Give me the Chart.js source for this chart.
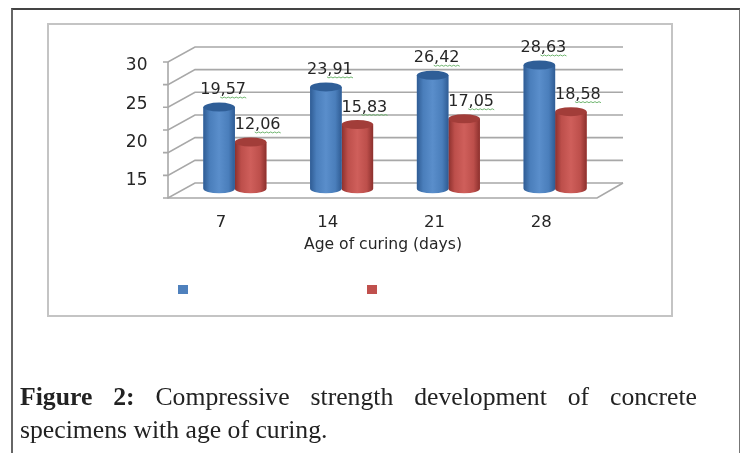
<!DOCTYPE html>
<html>
<head>
<meta charset="utf-8">
<script src="https://cdn.jsdelivr.net/npm/chart.js@4/dist/chart.umd.min.js"></script>
<style>
  html, body { margin: 0; padding: 0; background: #fff; }
  #page { position: relative; width: 740px; height: 453px; overflow: hidden; }
  #frame { position: absolute; left: 11px; top: 8px; width: 726px; height: 470px; border-top: 2px solid #444; border-left: 2px solid #666; border-right: 2px solid #777; }
  #box { position: absolute; left: 47px; top: 23px; width: 622px; height: 290px; border: 2px solid #c4c4c4; }
  #chart { position: absolute; left: 0; top: 0; filter: blur(0.4px); }
  #caption { position: absolute; left: 20px; top: 380px; width: 677px; font: 25.7px/33px "Liberation Serif", serif; color: #222; text-align: justify; }
</style>
</head>
<body>
<div id="page">
  <div id="frame"></div>
  <div id="box"></div>
  <canvas id="chart" width="740" height="453"></canvas>
  <div id="caption"><b>Figure 2:</b> Compressive strength development of concrete specimens with age of curing.</div>
</div>
<script>
const categories = ["7", "14", "21", "28"];
const blueValues = [19.57, 23.91, 26.42, 28.63];
const redValues = [12.06, 15.83, 17.05, 18.58];
const tickLabels = [15, 20, 25, 30];
const gridLines = [0, 1, 2, 3, 4, 5, 6];
const xTitle = "Age of curing (days)";

const area = { left: 181.5, right: 608.5, top: 47, bottom: 198 };
const depth = { x: 27, y: -15 };
const gridColor = "#a8a8a8";
const textColor = "#262626";

function comma(v) {
  return v.toFixed(2).replace(".", ",");
}

const wallPlugin = {
  id: "wall",
  beforeDatasetsDraw(chart) {
    const c = chart.ctx;
    const frontX = 168;
    const backRight = 623;
    const grid = chart.scales.yGrid;
    c.save();
    c.strokeStyle = gridColor;
    c.lineWidth = 1.6;
    gridLines.forEach((v) => {
      const y = grid.getPixelForValue(v);
      c.beginPath();
      c.moveTo(frontX - 5, y);
      c.lineTo(frontX, y);
      c.lineTo(frontX + depth.x, y + depth.y);
      c.lineTo(backRight, y + depth.y);
      c.stroke();
    });
    c.beginPath();
    c.moveTo(frontX, grid.getPixelForValue(6));
    c.lineTo(frontX, grid.getPixelForValue(0));
    c.lineTo(backRight - depth.x + 1, grid.getPixelForValue(0));
    c.lineTo(backRight, grid.getPixelForValue(0) + depth.y);
    c.stroke();
    c.restore();
  },
};

const cylinderColors = [
  { edge: "#2f5c94", mid: "#4a7ebb", light: "#5a8ecb", top: "#2f5e97" },
  { edge: "#8c302d", mid: "#bd4f4b", light: "#cf5f5b", top: "#a23d39" },
];

const cylinderPlugin = {
  id: "cylinders",
  afterDatasetDraw(chart, args) {
    const c = chart.ctx;
    const col = cylinderColors[args.index];
    args.meta.data.forEach((bar) => {
      const left = bar.x - bar.width / 2;
      const right = bar.x + bar.width / 2;
      const rx = bar.width / 2;
      const ry = 4.5;
      const g = c.createLinearGradient(left, 0, right, 0);
      g.addColorStop(0, col.edge);
      g.addColorStop(0.2, col.mid);
      g.addColorStop(0.5, col.light);
      g.addColorStop(0.8, col.mid);
      g.addColorStop(1, col.edge);
      c.save();
      c.fillStyle = g;
      c.beginPath();
      c.moveTo(left, bar.y);
      c.lineTo(left, bar.base);
      c.ellipse(bar.x, bar.base, rx, ry, 0, Math.PI, 0, true);
      c.lineTo(right, bar.y);
      c.closePath();
      c.fill();
      c.fillStyle = col.top;
      c.beginPath();
      c.ellipse(bar.x, bar.y, rx, ry, 0, 0, Math.PI * 2);
      c.fill();
      c.restore();
    });
  },
};

const labelOffsets = [4, 7];

const labelPlugin = {
  id: "valueLabels",
  afterDraw(chart) {
    const c = chart.ctx;
    c.save();
    c.font = '16px "DejaVu Sans"';
    c.textAlign = "center";
    c.textBaseline = "middle";
    chart.data.datasets.forEach((ds, i) => {
      chart.getDatasetMeta(i).data.forEach((bar, j) => {
        const text = comma(ds.data[j]);
        const x = bar.x + labelOffsets[i];
        const y = bar.y - 17;
        c.fillStyle = textColor;
        c.fillText(text, x, y);
        // green spell-check squiggle under the decimals
        const w = c.measureText(text).width;
        c.strokeStyle = "#6fb56f";
        c.lineWidth = 1;
        c.beginPath();
        for (let sx = x - w / 2 + 20, k = 0; sx < x + w / 2 + 2; sx += 2, k++) {
          if (k === 0) c.moveTo(sx, y + 7);
          else c.lineTo(sx, y + 7 + (k % 2));
        }
        c.stroke();
      });
    });
    c.font = '15.6px "DejaVu Sans"';
    c.fillStyle = textColor;
    c.fillText(xTitle, 383, 245);
    // legend keys only, the series names are blank in the figure
    [[178, 285], [367, 285]].forEach((p, i) => {
      c.fillStyle = chart.data.datasets[i].backgroundColor;
      c.fillRect(p[0], p[1], 10, 9);
    });
    c.restore();
  },
};

new Chart(document.getElementById("chart"), {
  type: "bar",
  data: {
    labels: categories,
    datasets: [
      { label: "", data: blueValues, backgroundColor: "#4f81bd", base: 2 },
      { label: "", data: redValues, backgroundColor: "#c0504d", base: 2 },
    ],
  },
  plugins: [wallPlugin, cylinderPlugin, labelPlugin],
  options: {
    responsive: false,
    animation: false,
    events: [],
    categoryPercentage: 0.59,
    barPercentage: 1,
    layout: { padding: { top: area.top, right: 740 - area.right } },
    plugins: { legend: { display: false }, tooltip: { enabled: false } },
    scales: {
      x: {
        grid: { display: false },
        border: { display: false },
        afterFit(s) { s.height = 453 - area.bottom; },
        ticks: { padding: 7, labelOffset: -14, color: textColor, font: { family: "DejaVu Sans", size: 16.5 } },
      },
      y: { display: false, min: 0, max: 32.5 },
      yLabels: {
        axis: "y",
        position: "left",
        min: 12.76,
        max: 32.46,
        grid: { display: false },
        border: { display: false },
        afterFit(s) { s.width = area.left; },
        afterBuildTicks(s) { s.ticks = tickLabels.map((v) => ({ value: v })); },
        ticks: { padding: 26, color: textColor, font: { family: "DejaVu Sans", size: 17 } },
      },
      yGrid: {
        axis: "y",
        display: false,
        min: 0,
        max: 6.66,
      },
    },
  },
});
</script>
</body>
</html>
